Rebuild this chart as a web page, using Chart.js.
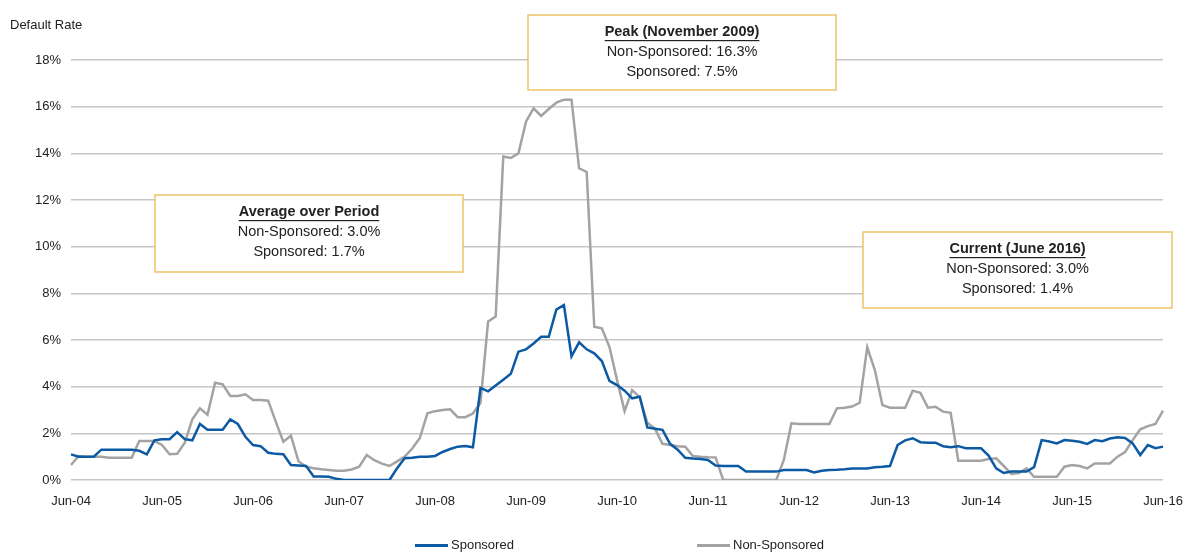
<!DOCTYPE html>
<html>
<head>
<meta charset="utf-8">
<script src="https://cdn.jsdelivr.net/npm/chart.js@4.4.0/dist/chart.umd.min.js"></script>
<style>
  html, body { margin: 0; padding: 0; background: #fff; }
  canvas { display: block; }
</style>
</head>
<body>
<canvas id="myChart" width="1187" height="554"></canvas>
<script>
// monthly default rates (%), Jun-04 .. Jun-16
const sponsored = [
  1.10, 1.00, 1.00, 1.00, 1.30, 1.30, 1.30, 1.30, 1.30, 1.25, 1.10, 1.70,
  1.75, 1.75, 2.05, 1.75, 1.70, 2.40, 2.15, 2.15, 2.15, 2.60, 2.40, 1.85,
  1.50, 1.45, 1.17, 1.12, 1.10, 0.64, 0.62, 0.60, 0.15, 0.15, 0.14, 0.05,
  0.00, 0.00, 0.00, 0.00, 0.00, 0.00, 0.00, 0.50, 0.93, 0.95, 1.00, 1.00,
  1.03, 1.20, 1.33, 1.43, 1.46, 1.40, 3.95, 3.80, 4.05, 4.30, 4.55, 5.50,
  5.60, 5.85, 6.14, 6.14, 7.30, 7.50, 5.30, 5.90, 5.60, 5.43, 5.10, 4.25,
  4.07, 3.83, 3.50, 3.57, 2.25, 2.20, 2.15, 1.55, 1.30, 0.95, 0.92, 0.90,
  0.86, 0.62, 0.60, 0.60, 0.60, 0.36, 0.36, 0.36, 0.36, 0.36, 0.43, 0.43,
  0.43, 0.43, 0.32, 0.40, 0.43, 0.44, 0.46, 0.49, 0.49, 0.49, 0.55, 0.57,
  0.60, 1.50, 1.70, 1.79, 1.62, 1.60, 1.60, 1.45, 1.40, 1.45, 1.36, 1.36,
  1.36, 1.05, 0.50, 0.30, 0.36, 0.36, 0.36, 0.55, 1.71, 1.65, 1.57, 1.71,
  1.68, 1.64, 1.55, 1.71, 1.66, 1.78, 1.83, 1.80, 1.57, 1.07, 1.50, 1.36,
  1.43
];
const nonSponsored = [
  0.64, 1.03, 1.00, 1.00, 1.00, 0.95, 0.95, 0.95, 0.95, 1.67, 1.67, 1.67,
  1.50, 1.10, 1.12, 1.60, 2.60, 3.07, 2.80, 4.17, 4.10, 3.60, 3.60, 3.67,
  3.43, 3.43, 3.40, 2.50, 1.64, 1.90, 0.80, 0.57, 0.50, 0.46, 0.43, 0.40,
  0.40, 0.45, 0.57, 1.07, 0.85, 0.70, 0.60, 0.80, 1.00, 1.35, 1.80, 2.86,
  2.95, 3.00, 3.03, 2.69, 2.69, 2.85, 3.31, 6.79, 7.00, 13.86, 13.80, 14.00,
  15.36, 15.93, 15.60, 15.90, 16.17, 16.30, 16.30, 13.36, 13.20, 6.57, 6.50, 5.71,
  4.29, 2.95, 3.85, 3.55, 2.45, 2.20, 1.55, 1.50, 1.45, 1.43, 1.03, 1.00,
  0.98, 0.97, 0.00, 0.00, 0.00, 0.00, 0.00, 0.00, 0.00, 0.00, 0.86, 2.43,
  2.40, 2.40, 2.40, 2.40, 2.40, 3.07, 3.10, 3.15, 3.31, 5.69, 4.71, 3.21,
  3.10, 3.10, 3.10, 3.83, 3.74, 3.10, 3.14, 2.93, 2.88, 0.83, 0.83, 0.83,
  0.83, 0.90, 0.93, 0.60, 0.26, 0.30, 0.50, 0.14, 0.14, 0.14, 0.14, 0.57,
  0.64, 0.60, 0.50, 0.71, 0.71, 0.71, 1.00, 1.20, 1.71, 2.17, 2.31, 2.40,
  2.97
];
const tickLabels = ['Jun-04','Jun-05','Jun-06','Jun-07','Jun-08','Jun-09','Jun-10',
                    'Jun-11','Jun-12','Jun-13','Jun-14','Jun-15','Jun-16'];
const seriesNames = ['Sponsored', 'Non-Sponsored'];
const seriesColors = ['#0B5AA3', '#A3A3A3'];

const notes = [
  { title: 'Average over Period', lines: ['Non-Sponsored: 3.0%', 'Sponsored: 1.7%'], box: [155, 195, 308, 77] },
  { title: 'Peak (November 2009)', lines: ['Non-Sponsored: 16.3%', 'Sponsored: 7.5%'], box: [528, 15, 308, 75] },
  { title: 'Current (June 2016)', lines: ['Non-Sponsored: 3.0%', 'Sponsored: 1.4%'], box: [863, 232, 309, 76] }
];

// month categories, one per point; only every 12th gets a label
const monthNames = ['Jun','Jul','Aug','Sep','Oct','Nov','Dec','Jan','Feb','Mar','Apr','May'];
const categories = sponsored.map((v, i) => {
  const yr = 4 + Math.floor((i + 5) / 12);
  return monthNames[i % 12] + '-' + String(yr).padStart(2, '0');
});

const FONT = "'Liberation Sans', Arial, sans-serif";

const extras = {
  id: 'extras',
  afterDraw(chart) {
    const c = chart.ctx;
    c.save();
    c.fillStyle = '#222';
    c.font = '13px ' + FONT;
    c.textAlign = 'left';
    c.textBaseline = 'middle';
    c.fillText('Default Rate', 10, 25);

    // legend: line sample + name, laid out from the dataset list
    const legendX = [415, 697];
    chart.data.datasets.forEach((ds, i) => {
      c.fillStyle = ds.borderColor;
      c.fillRect(legendX[i], 544, 33, 3);
      c.fillStyle = '#222';
      c.font = '13px ' + FONT;
      c.fillText(ds.label, legendX[i] + 36, 545);
    });

    notes.forEach(n => {
      const [x, y, w, h] = n.box;
      c.fillStyle = '#fff';
      c.fillRect(x, y, w, h);
      c.strokeStyle = '#EDC468';
      c.lineWidth = 1.5;
      c.strokeRect(x, y, w, h);
      const cx = x + w / 2;
      c.textAlign = 'center';
      c.fillStyle = '#222';
      c.font = 'bold 14.5px ' + FONT;
      c.fillText(n.title, cx, y + 17);
      const tw = c.measureText(n.title).width;
      c.fillRect(cx - tw / 2, y + 25, tw, 1.2);
      c.font = '14.5px ' + FONT;
      c.fillText(n.lines[0], cx, y + 37);
      c.fillText(n.lines[1], cx, y + 57);
      c.textAlign = 'left';
    });
    c.restore();
  }
};

new Chart(document.getElementById('myChart'), {
  type: 'line',
  data: {
    labels: categories,
    datasets: [
      { label: seriesNames[0], data: sponsored, borderColor: seriesColors[0],
        borderWidth: 2.5, pointRadius: 0, tension: 0 },
      { label: seriesNames[1], data: nonSponsored, borderColor: seriesColors[1],
        borderWidth: 2.5, pointRadius: 0, tension: 0 }
    ]
  },
  options: {
    responsive: false,
    animation: false,
    devicePixelRatio: 1,
    layout: { padding: { left: 0, right: 24, top: 60, bottom: 44 } },
    plugins: {
      legend: { display: false },
      tooltip: { enabled: false }
    },
    scales: {
      x: {
        grid: { display: false },
        border: { display: false },
        afterFit(s) { s.height = 30; s.paddingLeft = 0; s.paddingRight = 0; },
        ticks: {
          autoSkip: false, maxRotation: 0, padding: 6,
          font: { family: FONT, size: 13 }, color: '#222',
          callback: (v, i) => (i % 12 === 0 ? tickLabels[i / 12] : null)
        }
      },
      y: {
        min: 0, max: 18,
        grid: { color: '#C6C6C6', lineWidth: 1.5, drawTicks: false },
        border: { display: false },
        afterFit(s) { s.width = 71; },
        ticks: {
          stepSize: 2, padding: 10,
          font: { family: FONT, size: 13 }, color: '#222',
          callback: v => v + '%'
        }
      }
    }
  },
  plugins: [extras]
});
</script>
</body>
</html>
